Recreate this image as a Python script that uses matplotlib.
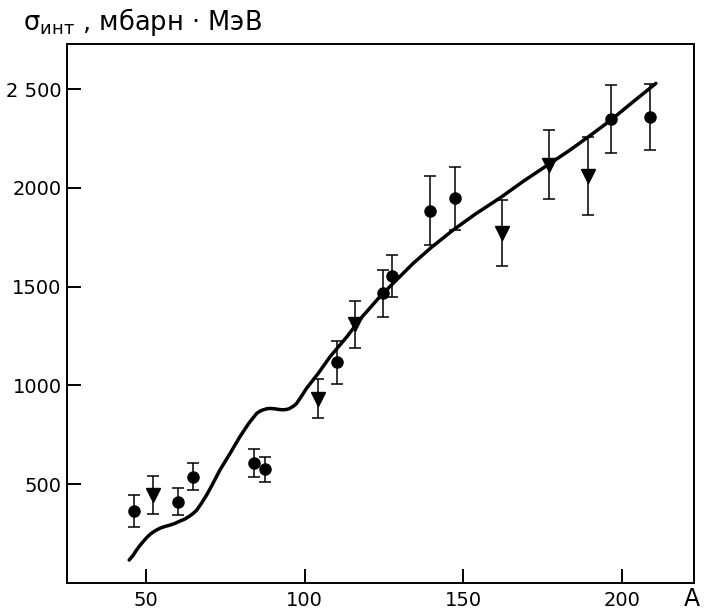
import matplotlib
matplotlib.use("Agg")
import matplotlib.pyplot as plt

# Circle data points (A, sigma, error)
circ_A = [46.2, 60.2, 64.7, 83.9, 87.4, 110.3, 124.6, 127.5, 139.5, 147.5, 196.5, 208.7]
circ_y = [362, 410, 537, 606, 574, 1116, 1466, 1554, 1885, 1947, 2348, 2360]
circ_err = [80, 68, 67, 72, 63, 107, 120, 105, 176, 160, 173, 166]

# Triangle data points (A, sigma, error)
tri_A = [52.1, 104.3, 115.9, 162.1, 177.1, 189.4]
tri_y = [445, 932, 1309, 1770, 2118, 2060]
tri_err = [95, 100, 118, 167, 175, 198]

# Theoretical curve
curve_A = [44.7, 46, 47, 48, 49.1, 50.3, 51.5, 53, 54.4, 56, 57.6, 59.2, 60.7, 62.2,
           63.5, 64.8, 66, 67.5, 69.1, 71, 73.3, 76.5, 79.6, 82.5, 84, 84.9, 86,
           87, 88, 89.1, 90.6, 92.2, 93.3, 94.3, 95.2, 96, 96.8, 97.5, 99, 100.6,
           104.3, 108, 113.3, 118, 123.7, 129, 134.2, 140, 146.8, 154, 161.6, 169,
           177.3, 183.6, 189.4, 196.5, 203, 210.7]
curve_y = [115, 140, 165, 187, 208, 230, 248, 264, 276, 285, 292, 301, 312, 322,
           335, 350, 368, 403, 444, 500, 571, 655, 740, 810, 840, 858, 870,
           876, 881, 883, 881, 877, 876, 878, 882, 890, 898, 909, 945, 985,
           1061, 1145, 1246, 1345, 1449, 1535, 1618, 1700, 1787, 1870, 1950, 2035,
           2124, 2192, 2259, 2344, 2430, 2530]

x_ticks = [50, 100, 150, 200]
y_ticks = [500, 1000, 1500, 2000, 2500]
y_ticklabels = ["500", "1000", "1500", "2000", "2 500"]

fig = plt.figure(figsize=(7.04, 6.12), dpi=100)
ax = fig.add_axes([0.0956, 0.0479, 0.8902, 0.881])

ax.plot(curve_A, curve_y, color="black", lw=2.5, solid_capstyle="round",
        solid_joinstyle="round", zorder=2)
ax.errorbar(circ_A, circ_y, yerr=circ_err, fmt="o", color="black", ms=8,
            elinewidth=1.1, capsize=4, capthick=1.1, zorder=3)
ax.errorbar(tri_A, tri_y, yerr=tri_err, fmt="v", color="black", ms=10.5,
            elinewidth=1.1, capsize=4, capthick=1.1, zorder=3)

ax.set_xlim(25.2, 222.7)
ax.set_ylim(0, 2732)
ax.set_xticks(x_ticks)
ax.set_yticks(y_ticks)
ax.set_yticklabels(y_ticklabels)
ax.tick_params(direction="in", length=10, width=1.4, labelsize=14, color="black")
ax.tick_params(axis="y", pad=4)
ax.tick_params(axis="x", pad=6)
for s in ax.spines.values():
    s.set_linewidth(1.4)

fig.text(0.983, 0.022, "A", fontsize=17, ha="center", va="center")
fig.text(0.032, 0.964, r"$\mathrm{σ}_{\mathrm{инт}}$ , мбарн · МэВ", fontsize=18.5,
         ha="left", va="center")

fig.savefig("out.png", dpi=100)
